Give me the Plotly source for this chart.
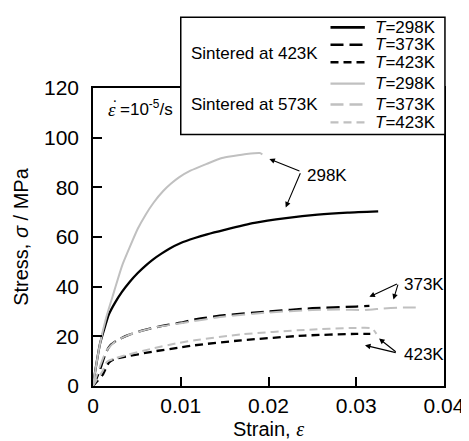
import plotly.graph_objects as go

# ---------------- data ----------------
x_298_423 = [0, 0.0003, 0.0008, 0.0012, 0.0018, 0.0025, 0.0033, 0.0042, 0.0051, 0.006, 0.0069,
             0.0078, 0.0087, 0.01, 0.0116, 0.013, 0.015, 0.0184, 0.022, 0.0256, 0.029, 0.0325]
y_298_423 = [0, 7, 17, 22, 28.8, 33.5, 37.9, 42, 45.5, 48.5, 51.1,
             53.3, 55.3, 57.6, 59.6, 61.1, 62.9, 65.7, 67.6, 69, 69.8, 70.3]

x_373_423 = [0, 0.0004, 0.0008, 0.0015, 0.002, 0.0028, 0.004, 0.0055, 0.007, 0.0085, 0.01,
             0.0116, 0.015, 0.02, 0.025, 0.03, 0.0315]
y_373_423 = [0, 3, 6.6, 13.7, 16.5, 18.5, 20.5, 22.2, 23.5, 24.6, 25.5,
             26.8, 28.5, 30, 31.3, 32, 32.3]

x_423_423 = [0, 0.0005, 0.0011, 0.0018, 0.0024, 0.0033, 0.0069, 0.0097, 0.0116, 0.0169, 0.0241, 0.03, 0.0316]
y_423_423 = [0, 2, 4.5, 9.4, 10.8, 11.5, 13.9, 15.4, 16.4, 18.4, 20.3, 21, 21]

x_298_573 = [0, 0.0003, 0.0008, 0.0015, 0.0024, 0.0033, 0.0042, 0.0051, 0.006, 0.0069, 0.008,
             0.0089, 0.0098, 0.0111, 0.013, 0.0147, 0.016, 0.0175, 0.019, 0.0193]
y_298_573 = [0, 7, 17, 27.5, 38, 48.3, 56, 63.3, 69, 73.8, 78.5,
             81.5, 84, 86.7, 89.5, 91.8, 92.6, 93.4, 93.8, 93.3]

x_373_573 = [0, 0.0004, 0.0008, 0.0015, 0.0024, 0.004, 0.007, 0.01, 0.015, 0.02, 0.025,
             0.028, 0.031, 0.033, 0.035, 0.0374]
y_373_573 = [0, 4, 8, 14, 17.5, 20.5, 23.5, 25.3, 28, 29.6, 30.6,
             30.8, 30.6, 31.2, 31.6, 31.6]

x_423_573 = [0, 0.0005, 0.0011, 0.0016, 0.0024, 0.0033, 0.0069, 0.0097, 0.0116, 0.0169, 0.0241,
             0.03, 0.0318, 0.0323]
y_423_573 = [0, 3, 6, 9.8, 11, 12, 15.2, 17.3, 18.4, 20.8, 22.6,
             23.4, 23.2, 21]

series_names = ["T=298K", "T=373K", "T=423K", "T=298K", "T=373K", "T=423K"]
legend_labels = ["<i>T</i>=298K", "<i>T</i>=373K", "<i>T</i>=423K",
                 "<i>T</i>=298K", "<i>T</i>=373K", "<i>T</i>=423K"]
group_labels = ["Sintered at 423K", "Sintered at 573K"]
xs = [x_298_423, x_373_423, x_423_423, x_298_573, x_373_573, x_423_573]
ys = [y_298_423, y_373_423, y_423_423, y_298_573, y_373_573, y_423_573]

x_ticks = [0, 0.01, 0.02, 0.03, 0.04]
x_ticktext = ["0", "0.01", "0.02", "0.03", "0.04"]
y_ticks = [0, 20, 40, 60, 80, 100, 120]
y_ticktext = ["0", "20", "40", "60", "80", "100", "120"]

# ---------------- styles ----------------
BLACK = "#000000"
GRAY = "#c0c0c0"
colors = [BLACK, BLACK, BLACK, GRAY, GRAY, GRAY]
dashes = ["solid", "13px,6px", "8px,5px", "solid", "13px,6px", "8px,5px"]
widths = [2.3, 2.3, 2.3, 2.0, 2.0, 2.0]
FONT = "Liberation Sans, Arial, sans-serif"

fig = go.Figure()
for i in range(6):
    fig.add_trace(go.Scatter(
        x=xs[i], y=ys[i], mode="lines", name=series_names[i],
        line=dict(color=colors[i], width=widths[i], dash=dashes[i], shape="spline", smoothing=0.6),
        showlegend=False,
    ))

# ---------------- axes ----------------
PL, PR, PT, PB = 78, 23, 80, 54
W, H = 469, 441
fig.update_layout(
    width=W, height=H,
    margin=dict(l=PL, r=PR, t=PT, b=PB, pad=0),
    plot_bgcolor="white", paper_bgcolor="white",
    font=dict(family=FONT, color="black", size=17),
    xaxis=dict(range=[0, 0.04], tickvals=x_ticks, ticktext=x_ticktext,
               ticks="inside", ticklen=9, tickwidth=1.5, tickcolor="black",
               showline=True, linewidth=1.5, linecolor="black", mirror=True,
               showgrid=False, zeroline=False, tickfont=dict(size=21),
               title=dict(text="Strain, <span style='font-family:Liberation Serif'><i>ε</i></span>",
                          font=dict(size=20), standoff=6)),
    yaxis=dict(range=[0, 120], tickvals=y_ticks, ticktext=y_ticktext,
               ticks="inside", ticklen=9, tickwidth=1.5, tickcolor="black",
               showline=True, linewidth=1.5, linecolor="black", mirror=True,
               showgrid=False, zeroline=False, tickfont=dict(size=21),
               ticklabelstandoff=8,
               title=dict(text="Stress, <i>σ</i> / MPa", font=dict(size=20), standoff=10)),
)

PW = W - PL - PR
PH = H - PT - PB


def px(xpix):
    return (xpix - PL) / PW


def py(ypix):
    return (H - PB - ypix) / PH


# ---------------- custom legend box ----------------
fig.add_shape(type="rect", xref="paper", yref="paper",
              x0=px(170), x1=px(447), y0=py(128), y1=py(7),
              line=dict(color="black", width=1.5), fillcolor="white", layer="above")

row_y = [17.5, 35.5, 53.5, 75.5, 97, 115.5]
for i in range(6):
    fig.add_shape(type="line", xref="paper", yref="paper",
                  x0=px(327), x1=px(363), y0=py(row_y[i]), y1=py(row_y[i]),
                  line=dict(color=colors[i], width=widths[i] + 0.3, dash=dashes[i]), layer="above")
    fig.add_annotation(xref="paper", yref="paper", x=px(372), y=py(row_y[i]),
                       text=legend_labels[i], showarrow=False, xanchor="left", yanchor="middle",
                       font=dict(size=17))
group_y = [44, 97]
for j in range(2):
    fig.add_annotation(xref="paper", yref="paper", x=px(179), y=py(group_y[j]),
                       text=group_labels[j], showarrow=False, xanchor="left", yanchor="middle",
                       font=dict(size=17))

# strain rate label: epsilon with a dot above, then the value
fig.add_annotation(xref="paper", yref="paper", x=px(92), y=py(102),
                   text="<span style='font-family:Liberation Serif'><i>ε</i></span>",
                   showarrow=False, xanchor="left", yanchor="middle", font=dict(size=19))
fig.add_annotation(xref="paper", yref="paper", x=px(95.5), y=py(98),
                   text="˙", showarrow=False, xanchor="left", yanchor="middle",
                   font=dict(size=17, family="Liberation Serif"))
fig.add_annotation(xref="paper", yref="paper", x=px(104), y=py(101),
                   text="=10<sup>-5</sup>/s",
                   showarrow=False, xanchor="left", yanchor="middle", font=dict(size=17))

# ---------------- labels with arrows ----------------
label_text = ["298K", "373K", "423K"]
label_pos = [(0.02413, 84.8), (0.0352, 41.0), (0.0352, 12.5)]
arrow_tail = [(0.0237, 86.3), (0.0348, 41.4), (0.03467, 13.3)]
arrow_heads = [[(0.0201, 91.4), (0.02196, 71.9)],
               [(0.0315, 35.9), (0.03424, 34.8)],
               [(0.0326, 19.1), (0.0310, 16.4)]]
for k in range(3):
    fig.add_annotation(x=label_pos[k][0], y=label_pos[k][1], text=label_text[k],
                       showarrow=False, xanchor="left", yanchor="middle", font=dict(size=17))
    for hx, hy in arrow_heads[k]:
        fig.add_annotation(x=hx, y=hy, ax=arrow_tail[k][0], ay=arrow_tail[k][1],
                           axref="x", ayref="y", text="", showarrow=True,
                           arrowhead=2, arrowsize=1, arrowwidth=1.1, arrowcolor="black")

fig.write_html("out.html")
